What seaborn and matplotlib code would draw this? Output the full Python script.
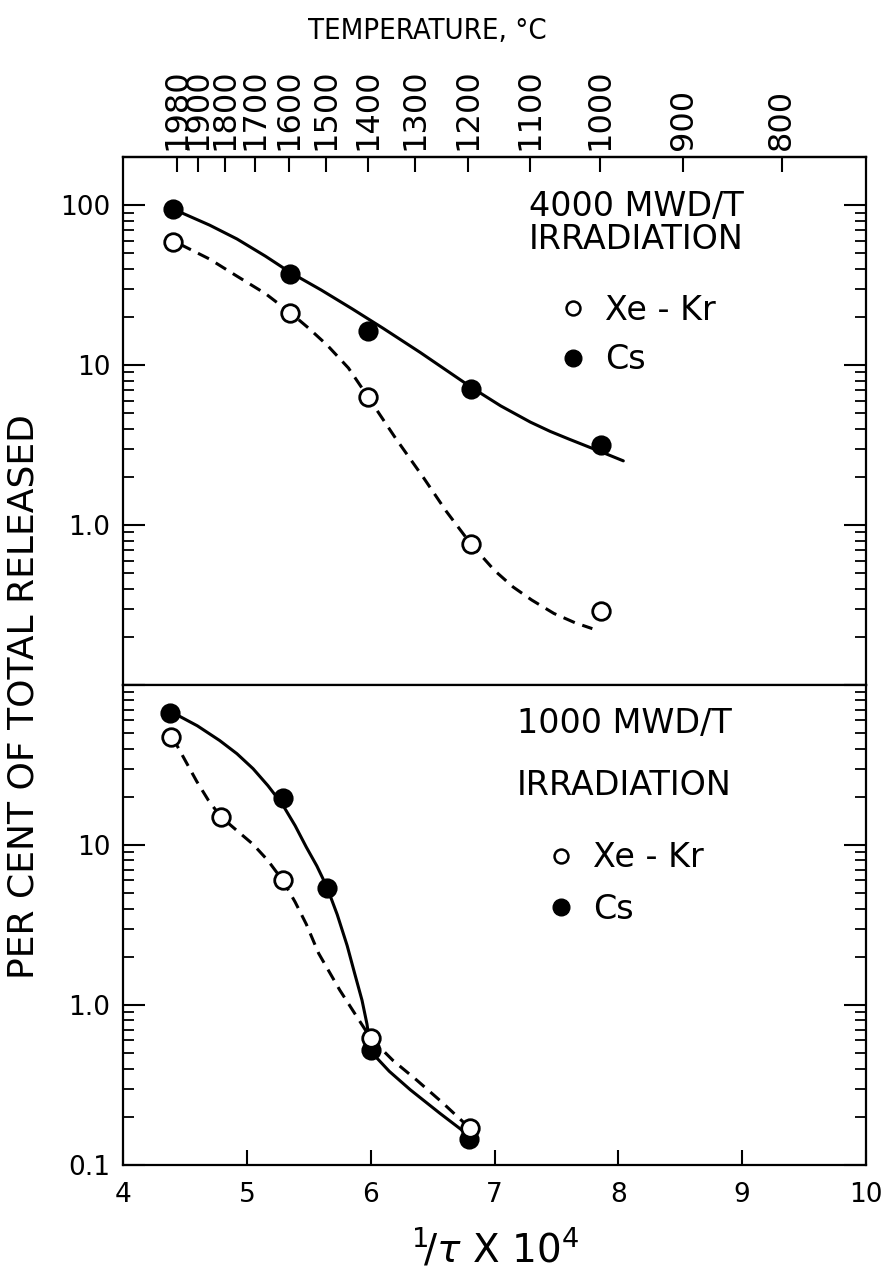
"""
Fission-gas and caesium release vs reciprocal temperature, two irradiation levels.
Log-scale release on two stacked panels, temperature scale on the top axis.
"""

import matplotlib
matplotlib.use("Agg")
import matplotlib.pyplot as plt
import numpy as np
import seaborn as sns
from matplotlib import font_manager
from matplotlib.lines import Line2D
from matplotlib.ticker import LogLocator, NullFormatter

# --- measured points, upper panel (4000 MWD/T) ---
TOP_X = [4.40, 5.35, 5.98, 6.81, 7.86]
TOP_CS = [94, 37, 16.3, 7.1, 3.15]
TOP_XE = [59, 21.3, 6.3, 0.76, 0.29]

# --- measured points, lower panel (1000 MWD/T) ---
BOT_CS_X = [4.38, 5.29, 5.645, 6.00, 6.79]
BOT_CS = [67, 19.6, 5.4, 0.52, 0.146]
BOT_XE_X = [4.39, 4.79, 5.29, 6.00, 6.80]
BOT_XE = [47, 15, 6.0, 0.62, 0.171]

# --- hand-drawn curves ---
TOP_CS_CURVE_X = [4.44, 4.70, 4.92, 5.15, 5.35, 5.60, 5.85, 6.10, 6.40, 6.82, 7.05,
                  7.29, 7.45, 7.60, 7.87, 8.04]
TOP_CS_CURVE_Y = [92, 75, 61.5, 48, 38, 29.5, 22.5, 17, 12, 7.2, 5.56,
                  4.4, 3.85, 3.45, 2.85, 2.52]
TOP_XE_CURVE_X = [4.46, 4.70, 4.92, 5.15, 5.36, 5.50, 5.65, 5.82, 5.98, 6.20, 6.43,
                  6.61, 6.81, 7.00, 7.15, 7.30, 7.48, 7.65, 7.79]
TOP_XE_CURVE_Y = [57, 46, 36, 28, 21, 17, 13.3, 9.6, 6.3, 3.5, 1.96,
                  1.22, 0.76, 0.52, 0.41, 0.34, 0.28, 0.245, 0.225]

BOT_CS_CURVE_X = [4.42, 4.60, 4.78, 4.92, 5.05, 5.17, 5.29, 5.39, 5.48, 5.565, 5.645,
                  5.73, 5.81, 5.87, 5.93, 5.97, 6.00, 6.04, 6.15, 6.32, 6.56, 6.76]
BOT_CS_CURVE_Y = [66, 55.6, 45, 37.2, 30, 23.5, 17.8, 13.2, 9.7, 7.4, 5.5,
                  3.67, 2.35, 1.58, 1.07, 0.76, 0.52, 0.475, 0.385, 0.295, 0.21, 0.16]
BOT_XE_CURVE_X = [4.40, 4.50, 4.595, 4.69, 4.79, 4.92, 5.05, 5.17, 5.29, 5.39, 5.48,
                  5.58, 5.75, 5.89, 6.00, 6.18, 6.37, 6.58, 6.80]
BOT_XE_CURVE_Y = [47, 34, 25, 19, 15, 12.3, 10.1, 8.0, 6.0, 4.4, 3.2,
                  2.1, 1.24, 0.84, 0.62, 0.45, 0.34, 0.245, 0.17]

TEMPS_C = [1980, 1900, 1800, 1700, 1600, 1500, 1400, 1300, 1200, 1100, 1000, 900, 800]

TEXT_SIZE = 24
TICK_SIZE = 19
LW = 2.2
DASH = (0, (4.0, 2.6))


def to_celsius(x):
    x = np.asarray(x, dtype=float)
    with np.errstate(divide="ignore", invalid="ignore"):
        return 1e4 / x - 273.15


def to_recip(t):
    t = np.asarray(t, dtype=float)
    with np.errstate(divide="ignore", invalid="ignore"):
        return 1e4 / (t + 273.15)


def style_log_axis(ax, ylim, labels):
    ax.set_yscale("log")
    ax.set_xlim(4, 10)
    ax.set_ylim(*ylim)
    ax.set_yticks([0.1, 1, 10, 100])
    ax.set_yticklabels(labels)
    ax.yaxis.set_minor_locator(LogLocator(base=10, subs=range(2, 10), numticks=20))
    ax.yaxis.set_minor_formatter(NullFormatter())
    ax.tick_params(axis="y", which="major", direction="in", length=16, width=1.5,
                   left=True, right=True, labelsize=TICK_SIZE, pad=9)
    ax.tick_params(axis="y", which="minor", direction="in", length=8, width=1.3,
                   left=True, right=True)
    for sp in ax.spines.values():
        sp.set_linewidth(1.6)
        sp.set_color("black")
    ax.set_xlabel("")
    ax.set_ylabel("")


def draw_panel(ax, cs_x, cs_y, xe_x, xe_y, cs_cx, cs_cy, xe_cx, xe_cy):
    sns.lineplot(x=cs_cx, y=cs_cy, sort=False, estimator=None, color="black",
                 linewidth=LW, ax=ax)
    sns.lineplot(x=xe_cx, y=xe_cy, sort=False, estimator=None, color="black",
                 linewidth=LW, linestyle=DASH, ax=ax)
    sns.scatterplot(x=cs_x, y=cs_y, s=170, color="black", edgecolor="black",
                    linewidth=1.5, zorder=4, ax=ax)
    sns.scatterplot(x=xe_x, y=xe_y, s=160, color="white", edgecolor="black",
                    linewidth=2.0, zorder=4, ax=ax)


def add_key(ax, title, anchor, title_spacing, entry_gap, title_gap):
    handles = [
        Line2D([], [], ls="", marker="o", ms=10, mfc="white", mec="black", mew=1.8),
        Line2D([], [], ls="", marker="o", ms=12, mfc="black", mec="black"),
    ]
    leg = ax.legend(handles, ["Xe - Kr", "Cs"], title=title, frameon=False,
                    loc="upper right", bbox_to_anchor=anchor, borderpad=0,
                    fontsize=TEXT_SIZE, title_fontsize=TEXT_SIZE, handlelength=1.0,
                    handletextpad=0.45, labelspacing=entry_gap, borderaxespad=0)
    leg.get_title().set_linespacing(title_spacing)
    leg._legend_box.sep = title_gap
    return leg


def main():
    sns.set_style("ticks")
    plt.rcParams["font.family"] = ["DejaVu Sans"]
    plt.rcParams["mathtext.fontset"] = "dejavusans"
    for key in ["text.color", "axes.labelcolor", "xtick.color", "ytick.color",
                "axes.edgecolor"]:
        plt.rcParams[key] = "black"

    # a narrow face suits the hand-lettered heading, if one is installed
    fonts = font_manager.fontManager.ttflist
    if any(f.name == "DejaVu Sans" and f.stretch == "condensed" for f in fonts):
        title_kw = dict(family="DejaVu Sans", fontstretch="condensed", fontsize=21)
    else:
        title_kw = dict(family="DejaVu Sans", fontsize=18)

    fig = plt.figure(figsize=(8.92, 12.83), dpi=100)
    ax1 = fig.add_axes([0.1379, 0.4661, 0.8330, 0.4115])
    ax2 = fig.add_axes([0.1379, 0.0920, 0.8330, 0.3741])

    # upper panel
    draw_panel(ax1, TOP_X, TOP_CS, TOP_X, TOP_XE,
               TOP_CS_CURVE_X, TOP_CS_CURVE_Y, TOP_XE_CURVE_X, TOP_XE_CURVE_Y)
    style_log_axis(ax1, (0.1, 200), ["", "1.0", "10", "100"])
    ax1.tick_params(axis="x", bottom=False, top=False, labelbottom=False)
    add_key(ax1, "4000 MWD/T\nIRRADIATION", (0.835, 0.937), 1.0, 0.5, 27)

    secax = ax1.secondary_xaxis("top", functions=(to_celsius, to_recip))
    secax.set_xticks(TEMPS_C)
    secax.set_xticklabels([str(t) for t in TEMPS_C], rotation=90)
    secax.tick_params(direction="in", length=11, width=1.5, labelsize=23, pad=5)
    secax.spines["top"].set_linewidth(1.6)

    # lower panel
    draw_panel(ax2, BOT_CS_X, BOT_CS, BOT_XE_X, BOT_XE,
               BOT_CS_CURVE_X, BOT_CS_CURVE_Y, BOT_XE_CURVE_X, BOT_XE_CURVE_Y)
    style_log_axis(ax2, (0.1, 100), ["0.1", "1.0", "10", ""])
    ax2.set_xticks(range(4, 11))
    ax2.tick_params(axis="x", direction="in", length=11, width=1.5, bottom=True,
                    top=False, labelsize=TICK_SIZE, pad=12)
    add_key(ax2, "1000 MWD/T\nIRRADIATION", (0.819, 0.955), 2.15, 0.55, 28)
    ax2.set_xlabel(r"$^{1}\!/\tau$ X 10$^{4}$", fontsize=28, labelpad=14)

    fig.text(0.479, 0.976, "TEMPERATURE, °C", ha="center", va="center", **title_kw)
    fig.text(0.026, 0.457, "PER CENT OF TOTAL RELEASED", rotation=90,
             ha="center", va="center", fontsize=26)

    fig.savefig("out.png", dpi=100)
    plt.close(fig)


if __name__ == "__main__":
    main()
